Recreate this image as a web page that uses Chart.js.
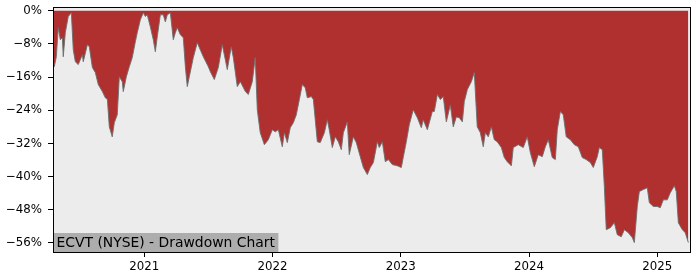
<!DOCTYPE html>
<html>
<head>
<meta charset="utf-8">
<script src="https://cdn.jsdelivr.net/npm/chart.js@4.4.1/dist/chart.umd.min.js"></script>
<style>
  html, body { margin: 0; padding: 0; background: #fff; }
  #wrap { width: 700px; height: 280px; }
</style>
</head>
<body>
<div id="wrap"><canvas id="myChart"></canvas></div>
<script>
// dates as decimal years, drawdown in percent
let years = [
    2020.290, 2020.298, 2020.314, 2020.329, 2020.345, 2020.361, 2020.368, 2020.384, 2020.407, 2020.431,
    2020.446, 2020.462, 2020.485, 2020.517, 2020.524, 2020.556, 2020.571, 2020.595, 2020.618, 2020.641,
    2020.673, 2020.696, 2020.712, 2020.727, 2020.750, 2020.766, 2020.789, 2020.805, 2020.828, 2020.836,
    2020.860, 2020.883, 2020.906, 2020.930, 2020.945, 2020.969, 2020.992, 2021.008, 2021.023, 2021.047,
    2021.070, 2021.086, 2021.101, 2021.125, 2021.148, 2021.164, 2021.179, 2021.203, 2021.226, 2021.242,
    2021.257, 2021.281, 2021.304, 2021.320, 2021.335, 2021.351, 2021.382, 2021.413, 2021.429, 2021.460,
    2021.499, 2021.515, 2021.546, 2021.577, 2021.608, 2021.647, 2021.678, 2021.694, 2021.725, 2021.749,
    2021.788, 2021.811, 2021.842, 2021.865, 2021.881, 2021.904, 2021.936, 2021.967, 2021.998, 2022.021,
    2022.045, 2022.076, 2022.092, 2022.115, 2022.138, 2022.162, 2022.185, 2022.209, 2022.232, 2022.255,
    2022.271, 2022.302, 2022.318, 2022.349, 2022.372, 2022.404, 2022.427, 2022.442, 2022.466, 2022.489,
    2022.513, 2022.536, 2022.552, 2022.583, 2022.598, 2022.630, 2022.653, 2022.684, 2022.708, 2022.739,
    2022.762, 2022.786, 2022.817, 2022.832, 2022.856, 2022.879, 2022.903, 2022.934, 2022.973, 2023.004,
    2023.020, 2023.043, 2023.066, 2023.097, 2023.129, 2023.160, 2023.175, 2023.207, 2023.246, 2023.261,
    2023.285, 2023.308, 2023.331, 2023.355, 2023.386, 2023.409, 2023.433, 2023.456, 2023.480, 2023.495,
    2023.519, 2023.550, 2023.573, 2023.596, 2023.620, 2023.643, 2023.659, 2023.682, 2023.706, 2023.729,
    2023.752, 2023.784, 2023.807, 2023.830, 2023.862, 2023.877, 2023.916, 2023.955, 2023.986, 2024.010,
    2024.041, 2024.072, 2024.103, 2024.127, 2024.150, 2024.181, 2024.205, 2024.220, 2024.244, 2024.267,
    2024.290, 2024.322, 2024.353, 2024.384, 2024.415, 2024.446, 2024.478, 2024.501, 2024.532, 2024.548,
    2024.571, 2024.587, 2024.602, 2024.634, 2024.665, 2024.688, 2024.719, 2024.743, 2024.774, 2024.805,
    2024.821, 2024.844, 2024.860, 2024.891, 2024.922, 2024.938, 2024.969, 2025.000, 2025.023, 2025.047,
    2025.078, 2025.101, 2025.133, 2025.148, 2025.164, 2025.195, 2025.218, 2025.242
];

let drawdown = [
    -12.8, -13.5, -11.1, -4.1, -7.0, -6.5, -11.1, -5.3, -1.4, -0.5,
    -9.4, -12.3, -13.0, -10.6, -12.3, -8.2, -8.7, -13.7, -14.9, -17.8,
    -19.5, -21.0, -21.4, -28.0, -30.4, -27.0, -25.1, -15.9, -17.1, -19.5,
    -15.9, -13.5, -11.3, -7.5, -5.3, -2.2, -0.5, -1.4, -1.0, -3.9,
    -7.0, -9.9, -6.3, -1.0, -1.0, -2.7, -1.0, -0.5, -7.0, -5.3,
    -4.1, -5.8, -6.5, -13.5, -18.3, -15.9, -11.3, -7.7, -8.9, -11.1,
    -13.5, -14.7, -16.6, -13.7, -8.2, -14.2, -8.7, -11.3, -18.3, -17.1,
    -19.5, -20.2, -17.1, -11.3, -23.9, -29.4, -32.3, -31.1, -28.7, -29.2,
    -28.7, -32.8, -29.4, -31.8, -28.2, -27.0, -25.1, -21.4, -17.8, -18.6,
    -21.0, -20.7, -21.4, -31.6, -31.8, -29.4, -26.3, -28.7, -33.0, -30.4,
    -31.6, -33.5, -29.4, -26.8, -34.7, -30.4, -31.8, -35.2, -37.8, -39.5,
    -37.8, -36.6, -31.6, -33.0, -31.6, -36.4, -35.9, -37.1, -37.4, -37.8,
    -35.2, -31.6, -27.5, -23.9, -25.8, -28.2, -26.3, -28.7, -24.3, -24.3,
    -20.2, -21.4, -20.7, -26.8, -22.7, -28.0, -25.6, -25.8, -26.8, -21.9,
    -19.0, -17.1, -14.9, -28.0, -29.4, -32.8, -29.4, -30.4, -28.0, -31.1,
    -31.6, -33.0, -35.4, -36.4, -37.4, -33.0, -32.3, -33.0, -30.4, -34.2,
    -37.6, -34.7, -35.2, -32.8, -31.1, -35.4, -35.9, -28.7, -24.3, -25.1,
    -30.4, -31.1, -32.3, -32.8, -35.4, -35.9, -36.6, -37.8, -35.2, -33.0,
    -33.5, -42.4, -52.8, -52.3, -51.1, -54.0, -54.5, -52.8, -53.5, -54.7,
    -55.9, -47.2, -43.6, -43.1, -42.7, -46.3, -47.2, -47.2, -47.5, -45.6,
    -45.6, -43.9, -42.2, -43.6, -51.1, -52.8, -53.5, -55.9
];

let yearTicks = [2021, 2022, 2023, 2024, 2025];
let pctTicks = [0, -8, -16, -24, -32, -40, -48, -56];
let title = 'ECVT (NYSE) - Drawdown Chart';

let tickFont = { family: 'DejaVu Sans', size: 11.8 };

function noPad(s) {
    s.paddingTop = 0;
    s.paddingBottom = 0;
    s.paddingLeft = 0;
    s.paddingRight = 0;
}

let frame = {
    id: 'frame',
    beforeDatasetsDraw(chart) {
        let a = chart.chartArea, c = chart.ctx;
        c.save();
        c.fillStyle = '#ececec';
        c.fillRect(a.left, a.top, a.right - a.left, a.bottom - a.top);
        c.restore();
    },
    afterDatasetsDraw(chart) {
        let a = chart.chartArea, c = chart.ctx;
        c.save();
        c.font = '13.9px "DejaVu Sans"';
        let w = c.measureText(title).width;
        c.fillStyle = '#adadad';
        c.fillRect(a.left + 1, a.bottom - 19, w + 6, 19);
        c.fillStyle = '#000';
        c.textBaseline = 'alphabetic';
        c.fillText(title, a.left + 3.5, a.bottom - 5);
        c.strokeStyle = '#000';
        c.lineWidth = 1;
        c.strokeRect(a.left + 0.5, a.top + 0.5, a.right - a.left, a.bottom - a.top);
        c.restore();
    }
};

let chart = new Chart(document.getElementById('myChart'), {
    type: 'line',
    data: {
        datasets: [{
            data: years.map((y, i) => ({ x: y, y: drawdown[i] })),
            borderColor: 'rgba(110, 110, 110, 0.9)',
            borderWidth: 1,
            backgroundColor: '#b03030',
            fill: 'origin',
            pointRadius: 0,
            tension: 0
        }]
    },
    options: {
        responsive: true,
        maintainAspectRatio: false,
        animation: false,
        layout: { padding: { top: 7, right: 10, left: 0, bottom: 0 } },
        plugins: { legend: { display: false }, tooltip: { enabled: false } },
        scales: {
            x: {
                type: 'linear',
                min: 2020.288,
                max: 2025.255,
                afterBuildTicks: s => { s.ticks = yearTicks.map(v => ({ value: v })); },
                afterFit: s => { s.height = 28; noPad(s); },
                ticks: {
                    color: '#000',
                    font: tickFont,
                    padding: 3,
                    maxRotation: 0,
                    callback: v => String(v)
                },
                grid: { drawOnChartArea: false, drawTicks: true, tickLength: 5, color: '#000' },
                border: { display: true, color: '#000', width: 1 }
            },
            y: {
                min: -58.17,
                max: 0.89,
                afterBuildTicks: s => { s.ticks = pctTicks.map(v => ({ value: v })); },
                afterFit: s => { s.width = 53; noPad(s); },
                ticks: {
                    color: '#000',
                    font: tickFont,
                    padding: 6,
                    callback: v => v === 0 ? '0%' : '\u2212' + Math.abs(v) + '%'
                },
                grid: { drawOnChartArea: false, drawTicks: true, tickLength: 5, color: '#000' },
                border: { display: true, color: '#000', width: 1 }
            }
        }
    },
    plugins: [frame]
});
</script>
</body>
</html>
